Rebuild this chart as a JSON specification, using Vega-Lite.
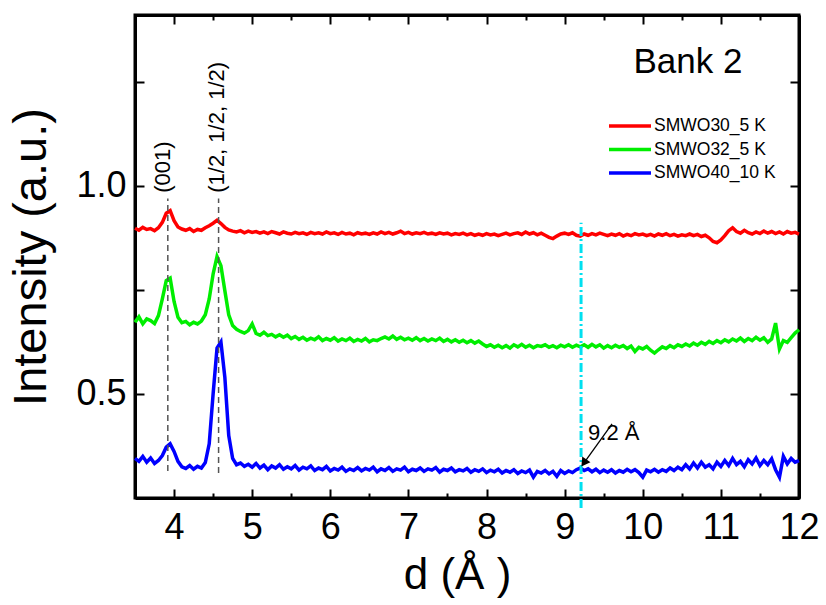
{
 "$schema": "https://vega.github.io/schema/vega-lite/v6.json",
 "width": 664, "height": 483,
 "autosize": "none",
 "padding": {"left": 135, "top": 15, "right": 27, "bottom": 107},
 "background": "white",
 "config": {
  "font": "Liberation Sans",
  "view": {"stroke": "black", "strokeWidth": 3},
  "axis": {"domainColor": "black", "domainWidth": 3, "tickColor": "black", "tickWidth": 2, "grid": false, "labelColor": "black", "titleColor": "black", "labelFont": "Liberation Sans", "titleFont": "Liberation Sans", "titleFontWeight": "normal", "labelOverlap": false, "labelBound": false, "labelFlush": false}
 },
 "datasets": {
  "spec": [
{"d":3.50,"r":0.898,"g":0.672,"b":0.345},{"d":3.55,"r":0.893,"g":0.685,"b":0.338},{"d":3.60,"r":0.900,"g":0.668,"b":0.350},{"d":3.65,"r":0.895,"g":0.680,"b":0.336},{"d":3.70,"r":0.897,"g":0.676,"b":0.346},{"d":3.75,"r":0.892,"g":0.669,"b":0.333},{"d":3.80,"r":0.899,"g":0.688,"b":0.340},{"d":3.85,"r":0.912,"g":0.728,"b":0.352},{"d":3.90,"r":0.934,"g":0.772,"b":0.372},{"d":3.95,"r":0.940,"g":0.778,"b":0.380},
{"d":4.00,"r":0.916,"g":0.722,"b":0.362},{"d":4.05,"r":0.901,"g":0.684,"b":0.338},{"d":4.10,"r":0.896,"g":0.671,"b":0.325},{"d":4.15,"r":0.893,"g":0.674,"b":0.321},{"d":4.20,"r":0.897,"g":0.666,"b":0.328},{"d":4.25,"r":0.890,"g":0.672,"b":0.319},{"d":4.30,"r":0.895,"g":0.668,"b":0.326},{"d":4.35,"r":0.893,"g":0.675,"b":0.322},{"d":4.40,"r":0.899,"g":0.690,"b":0.335},{"d":4.45,"r":0.904,"g":0.728,"b":0.380},
{"d":4.50,"r":0.910,"g":0.788,"b":0.500},{"d":4.55,"r":0.917,"g":0.830,"b":0.610},{"d":4.60,"r":0.909,"g":0.808,"b":0.625},{"d":4.65,"r":0.900,"g":0.748,"b":0.540},{"d":4.70,"r":0.894,"g":0.690,"b":0.400},{"d":4.75,"r":0.891,"g":0.664,"b":0.345},{"d":4.80,"r":0.889,"g":0.655,"b":0.330},{"d":4.85,"r":0.892,"g":0.650,"b":0.334},{"d":4.90,"r":0.887,"g":0.646,"b":0.326},{"d":4.95,"r":0.891,"g":0.652,"b":0.331},
{"d":5.00,"r":0.888,"g":0.668,"b":0.324},{"d":5.05,"r":0.890,"g":0.645,"b":0.333},{"d":5.10,"r":0.886,"g":0.641,"b":0.322},{"d":5.15,"r":0.889,"g":0.648,"b":0.329},{"d":5.20,"r":0.885,"g":0.640,"b":0.318},{"d":5.25,"r":0.890,"g":0.643,"b":0.327},{"d":5.30,"r":0.887,"g":0.637,"b":0.322},{"d":5.35,"r":0.884,"g":0.642,"b":0.330},{"d":5.40,"r":0.889,"g":0.636,"b":0.319},{"d":5.45,"r":0.886,"g":0.641,"b":0.325},
{"d":5.50,"r":0.884,"g":0.633,"b":0.320},{"d":5.55,"r":0.888,"g":0.638,"b":0.328},{"d":5.60,"r":0.885,"g":0.631,"b":0.317},{"d":5.65,"r":0.887,"g":0.636,"b":0.324},{"d":5.70,"r":0.883,"g":0.629,"b":0.320},{"d":5.75,"r":0.888,"g":0.634,"b":0.327},{"d":5.80,"r":0.885,"g":0.630,"b":0.316},{"d":5.85,"r":0.887,"g":0.637,"b":0.322},{"d":5.90,"r":0.884,"g":0.628,"b":0.318},{"d":5.95,"r":0.889,"g":0.633,"b":0.326},
{"d":6.00,"r":0.885,"g":0.629,"b":0.315},{"d":6.05,"r":0.887,"g":0.635,"b":0.321},{"d":6.10,"r":0.883,"g":0.627,"b":0.317},{"d":6.15,"r":0.888,"g":0.632,"b":0.324},{"d":6.20,"r":0.884,"g":0.628,"b":0.314},{"d":6.25,"r":0.886,"g":0.634,"b":0.320},{"d":6.30,"r":0.882,"g":0.626,"b":0.316},{"d":6.35,"r":0.887,"g":0.631,"b":0.323},{"d":6.40,"r":0.884,"g":0.627,"b":0.315},{"d":6.45,"r":0.886,"g":0.633,"b":0.321},
{"d":6.50,"r":0.883,"g":0.625,"b":0.317},{"d":6.55,"r":0.887,"g":0.630,"b":0.324},{"d":6.60,"r":0.884,"g":0.628,"b":0.313},{"d":6.65,"r":0.889,"g":0.633,"b":0.320},{"d":6.70,"r":0.885,"g":0.637,"b":0.316},{"d":6.75,"r":0.888,"g":0.632,"b":0.323},{"d":6.80,"r":0.884,"g":0.639,"b":0.314},{"d":6.85,"r":0.887,"g":0.631,"b":0.320},{"d":6.90,"r":0.891,"g":0.636,"b":0.317},{"d":6.95,"r":0.885,"g":0.630,"b":0.324},
{"d":7.00,"r":0.888,"g":0.634,"b":0.313},{"d":7.05,"r":0.884,"g":0.629,"b":0.319},{"d":7.10,"r":0.887,"g":0.635,"b":0.316},{"d":7.15,"r":0.885,"g":0.628,"b":0.322},{"d":7.20,"r":0.888,"g":0.633,"b":0.314},{"d":7.25,"r":0.884,"g":0.627,"b":0.320},{"d":7.30,"r":0.886,"g":0.632,"b":0.317},{"d":7.35,"r":0.883,"g":0.628,"b":0.323},{"d":7.40,"r":0.887,"g":0.634,"b":0.312},{"d":7.45,"r":0.884,"g":0.626,"b":0.319},
{"d":7.50,"r":0.886,"g":0.631,"b":0.316},{"d":7.55,"r":0.882,"g":0.625,"b":0.322},{"d":7.60,"r":0.885,"g":0.630,"b":0.313},{"d":7.65,"r":0.883,"g":0.624,"b":0.318},{"d":7.70,"r":0.886,"g":0.629,"b":0.315},{"d":7.75,"r":0.882,"g":0.623,"b":0.321},{"d":7.80,"r":0.885,"g":0.628,"b":0.312},{"d":7.85,"r":0.881,"g":0.622,"b":0.318},{"d":7.90,"r":0.884,"g":0.627,"b":0.314},{"d":7.95,"r":0.881,"g":0.620,"b":0.320},
{"d":8.00,"r":0.885,"g":0.614,"b":0.311},{"d":8.05,"r":0.882,"g":0.618,"b":0.317},{"d":8.10,"r":0.884,"g":0.612,"b":0.313},{"d":8.15,"r":0.880,"g":0.617,"b":0.319},{"d":8.20,"r":0.883,"g":0.611,"b":0.310},{"d":8.25,"r":0.886,"g":0.616,"b":0.316},{"d":8.30,"r":0.882,"g":0.610,"b":0.312},{"d":8.35,"r":0.885,"g":0.618,"b":0.318},{"d":8.40,"r":0.887,"g":0.613,"b":0.309},{"d":8.45,"r":0.883,"g":0.619,"b":0.315},
{"d":8.50,"r":0.889,"g":0.612,"b":0.311},{"d":8.55,"r":0.884,"g":0.617,"b":0.317},{"d":8.60,"r":0.887,"g":0.611,"b":0.300},{"d":8.65,"r":0.882,"g":0.616,"b":0.314},{"d":8.70,"r":0.886,"g":0.614,"b":0.310},{"d":8.75,"r":0.881,"g":0.618,"b":0.316},{"d":8.80,"r":0.876,"g":0.612,"b":0.308},{"d":8.85,"r":0.873,"g":0.616,"b":0.314},{"d":8.90,"r":0.879,"g":0.611,"b":0.302},{"d":8.95,"r":0.884,"g":0.617,"b":0.316},
{"d":9.00,"r":0.886,"g":0.613,"b":0.309},{"d":9.05,"r":0.883,"g":0.618,"b":0.315},{"d":9.10,"r":0.887,"g":0.612,"b":0.311},{"d":9.15,"r":0.881,"g":0.617,"b":0.318},{"d":9.20,"r":0.879,"g":0.613,"b":0.322},{"d":9.25,"r":0.884,"g":0.618,"b":0.316},{"d":9.30,"r":0.881,"g":0.612,"b":0.320},{"d":9.35,"r":0.885,"g":0.619,"b":0.313},{"d":9.40,"r":0.882,"g":0.613,"b":0.319},{"d":9.45,"r":0.886,"g":0.618,"b":0.311},
{"d":9.50,"r":0.883,"g":0.610,"b":0.317},{"d":9.55,"r":0.880,"g":0.616,"b":0.312},{"d":9.60,"r":0.884,"g":0.611,"b":0.318},{"d":9.65,"r":0.881,"g":0.617,"b":0.310},{"d":9.70,"r":0.885,"g":0.612,"b":0.316},{"d":9.75,"r":0.879,"g":0.616,"b":0.312},{"d":9.80,"r":0.883,"g":0.609,"b":0.319},{"d":9.85,"r":0.880,"g":0.615,"b":0.313},{"d":9.90,"r":0.885,"g":0.602,"b":0.318},{"d":9.95,"r":0.882,"g":0.612,"b":0.311},
{"d":10.00,"r":0.884,"g":0.608,"b":0.300},{"d":10.05,"r":0.880,"g":0.614,"b":0.317},{"d":10.10,"r":0.883,"g":0.605,"b":0.313},{"d":10.15,"r":0.879,"g":0.598,"b":0.319},{"d":10.20,"r":0.884,"g":0.606,"b":0.312},{"d":10.25,"r":0.881,"g":0.613,"b":0.318},{"d":10.30,"r":0.885,"g":0.609,"b":0.314},{"d":10.35,"r":0.880,"g":0.616,"b":0.322},{"d":10.40,"r":0.883,"g":0.611,"b":0.316},{"d":10.45,"r":0.879,"g":0.618,"b":0.324},
{"d":10.50,"r":0.882,"g":0.614,"b":0.318},{"d":10.55,"r":0.880,"g":0.620,"b":0.330},{"d":10.60,"r":0.884,"g":0.615,"b":0.320},{"d":10.65,"r":0.880,"g":0.622,"b":0.334},{"d":10.70,"r":0.883,"g":0.617,"b":0.322},{"d":10.75,"r":0.878,"g":0.624,"b":0.336},{"d":10.80,"r":0.881,"g":0.619,"b":0.324},{"d":10.85,"r":0.875,"g":0.626,"b":0.330},{"d":10.90,"r":0.866,"g":0.621,"b":0.320},{"d":10.95,"r":0.863,"g":0.628,"b":0.336},
{"d":11.00,"r":0.870,"g":0.623,"b":0.326},{"d":11.05,"r":0.880,"g":0.630,"b":0.340},{"d":11.10,"r":0.892,"g":0.625,"b":0.328},{"d":11.15,"r":0.899,"g":0.632,"b":0.345},{"d":11.20,"r":0.890,"g":0.627,"b":0.330},{"d":11.25,"r":0.886,"g":0.634,"b":0.338},{"d":11.30,"r":0.893,"g":0.626,"b":0.325},{"d":11.35,"r":0.887,"g":0.633,"b":0.342},{"d":11.40,"r":0.884,"g":0.628,"b":0.332},{"d":11.45,"r":0.889,"g":0.636,"b":0.346},
{"d":11.50,"r":0.885,"g":0.629,"b":0.328},{"d":11.55,"r":0.891,"g":0.635,"b":0.340},{"d":11.60,"r":0.886,"g":0.624,"b":0.330},{"d":11.65,"r":0.890,"g":0.632,"b":0.344},{"d":11.70,"r":0.885,"g":0.670,"b":0.318},{"d":11.75,"r":0.889,"g":0.608,"b":0.300},{"d":11.80,"r":0.884,"g":0.628,"b":0.350},{"d":11.85,"r":0.890,"g":0.624,"b":0.332},{"d":11.90,"r":0.886,"g":0.635,"b":0.345},{"d":11.95,"r":0.888,"g":0.646,"b":0.336},
{"d":12.00,"r":0.884,"g":0.654,"b":0.340}
  ],
  "peaks": [
   {"d": 3.92, "y1": 0.315, "y2": 0.969, "lx": 3.86, "ly": 0.983, "t": "(001)"},
   {"d": 4.57, "y1": 0.310, "y2": 0.969, "lx": 4.55, "ly": 0.983, "t": "(1/2, 1/2, 1/2)"}
  ]
 },
 "layer": [
  {
   "data": {"name": "spec"},
   "transform": [{"fold": ["r", "g", "b"], "as": ["s", "I"]}],
   "mark": {"type": "line", "strokeWidth": 3.5},
   "encoding": {
    "x": {"field": "d", "type": "quantitative", "scale": {"domain": [3.5, 12], "nice": false, "zero": false},
     "axis": {"orient": "bottom", "values": [4,4.5,5,5.5,6,6.5,7,7.5,8,8.5,9,9.5,10,10.5,11,11.5,12],
      "labelExpr": "datum.value % 1 === 0 ? '' + datum.value : ''",
      "tickSize": {"condition": {"test": "datum.value % 1 !== 0", "value": -5}, "value": -9},
      "labelFontSize": 36, "labelPadding": 21, "title": "d (Å )", "titleFontSize": 44, "titlePadding": 4, "titleX": 322}},
    "y": {"field": "I", "type": "quantitative", "scale": {"domain": [0.25, 1.41], "nice": false, "zero": false},
     "axis": {"orient": "left", "values": [0.5, 0.75, 1, 1.25], "format": ".1f",
      "labelExpr": "datum.value === 0.5 || datum.value === 1 ? datum.label : ''",
      "tickSize": -9, "labelFontSize": 36, "labelPadding": 18, "title": "Intensity (a.u.)", "titleFontSize": 47, "titlePadding": 20}},
    "color": {"field": "s", "type": "nominal", "scale": {"domain": ["r", "g", "b"], "range": ["#ff0000", "#00ee00", "#0000ff"]},
     "legend": {"orient": "none", "legendX": 486, "legendY": 102, "title": null, "symbolType": "M-3,0H3", "symbolSize": 196, "symbolStrokeWidth": 3.5, "symbolFillColor": "transparent", "labelFontSize": 17.5, "labelOffset": 15, "rowPadding": 5.5, "padding": 0, "labelColor": "black",
      "labelExpr": "{'r': 'SMWO30_5 K', 'g': 'SMWO32_5 K', 'b': 'SMWO40_10 K'}[datum.label]"}}
   }
  },
  {
   "data": {"name": "peaks"},
   "mark": {"type": "rule", "color": "#555555", "strokeDash": [6, 4], "strokeWidth": 1.5},
   "encoding": {
    "x": {"field": "d", "type": "quantitative", "scale": {"domain": [3.5, 12], "nice": false, "zero": false},
     "axis": {"orient": "top", "values": [4,4.5,5,5.5,6,6.5,7,7.5,8,8.5,9,9.5,10,10.5,11,11.5,12], "labels": false, "title": null,
      "tickSize": {"condition": {"test": "datum.value % 1 !== 0", "value": -5}, "value": -9}}},
    "y": {"field": "y1", "type": "quantitative", "scale": {"domain": [0.25, 1.41], "nice": false, "zero": false},
     "axis": {"orient": "right", "values": [0.5, 0.75, 1, 1.25], "labels": false, "title": null, "tickSize": -9}},
    "y2": {"field": "y2"}
   }
  },
  {
   "data": {"name": "peaks"},
   "mark": {"type": "text", "angle": 270, "align": "left", "baseline": "middle", "fontSize": 22, "color": "black"},
   "encoding": {
    "x": {"field": "lx", "type": "quantitative", "axis": null},
    "y": {"field": "ly", "type": "quantitative", "axis": null},
    "text": {"field": "t"}
   }
  },
  {
   "data": {"values": [{"d": 9.21, "y1": 0.226, "y2": 0.911}]},
   "mark": {"type": "rule", "color": "#00e0f0", "strokeWidth": 3, "strokeDash": [9, 3, 2, 3]},
   "encoding": {
    "x": {"field": "d", "type": "quantitative", "axis": null},
    "y": {"field": "y1", "type": "quantitative", "axis": null},
    "y2": {"field": "y2"}
   }
  },
  {
   "data": {"values": [{"xa": 9.607, "ya": 0.428, "xb": 9.246, "yb": 0.334}]},
   "mark": {"type": "rule", "color": "black", "strokeWidth": 1.3},
   "encoding": {
    "x": {"field": "xa", "type": "quantitative", "axis": null},
    "x2": {"field": "xb"},
    "y": {"field": "ya", "type": "quantitative", "axis": null},
    "y2": {"field": "yb"}
   }
  },
  {
   "data": {"values": [{"x": 9.246, "y": 0.334}]},
   "mark": {"type": "point", "shape": "triangle-up", "angle": 215, "filled": true, "color": "black", "size": 100, "opacity": 1},
   "encoding": {
    "x": {"field": "x", "type": "quantitative", "axis": null},
    "y": {"field": "y", "type": "quantitative", "axis": null}
   }
  },
  {
   "data": {"values": [{"x": 9.30, "y": 0.389, "t": "9.2 Å"}]},
   "mark": {"type": "text", "align": "left", "baseline": "alphabetic", "fontSize": 22, "color": "black"},
   "encoding": {
    "x": {"field": "x", "type": "quantitative", "axis": null},
    "y": {"field": "y", "type": "quantitative", "axis": null},
    "text": {"field": "t"}
   }
  },
  {
   "data": {"values": [{"x": 9.88, "y": 1.296, "t": "Bank 2"}]},
   "mark": {"type": "text", "align": "left", "baseline": "middle", "fontSize": 35, "color": "black"},
   "encoding": {
    "x": {"field": "x", "type": "quantitative", "axis": null},
    "y": {"field": "y", "type": "quantitative", "axis": null},
    "text": {"field": "t"}
   }
  }
 ],
 "resolve": {"axis": {"x": "independent", "y": "independent"}}
}
